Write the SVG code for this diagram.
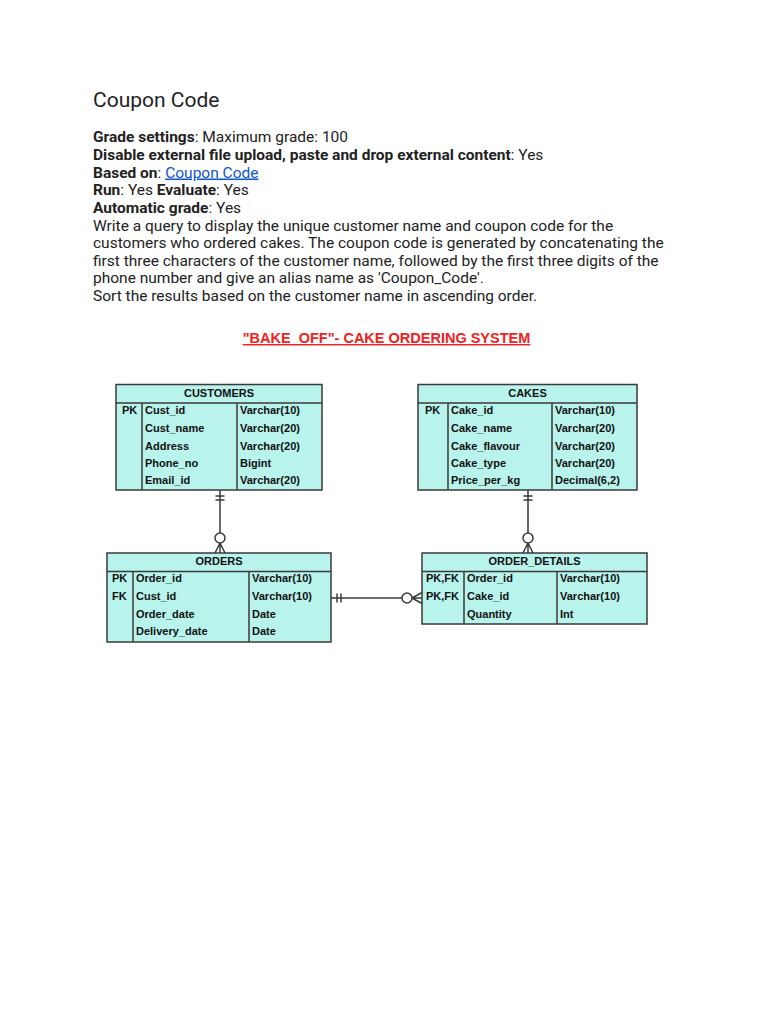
<svg xmlns="http://www.w3.org/2000/svg" width="768" height="1024" viewBox="0 0 768 1024">
<style>
.t{font-family:Roboto,"Liberation Sans",sans-serif;font-size:15.5px;fill:#222}
.b{font-weight:700}
.tb{fill:#b8f3ec;stroke:#3a3a3a;stroke-width:1.5}
.ln{stroke:#3a3a3a;stroke-width:1.5;fill:none}
.c{font-family:"Liberation Sans",Arial,sans-serif;font-size:11px;font-weight:700;fill:#111}
.h{text-anchor:middle}
.ce{fill:#fff;stroke:#3a3a3a;stroke-width:1.5}
</style>
<rect width="768" height="1024" fill="#fff"/>
<g id="header-text">
<text x="93" y="107" class="t" style="font-size:21px">Coupon Code</text>
<text x="93" y="142" class="t"><tspan class="b">Grade settings</tspan>: Maximum grade: 100</text>
<text x="93" y="160" class="t"><tspan class="b">Disable external file upload, paste and drop external content</tspan>: Yes</text>
<text x="93" y="177.5" class="t"><tspan class="b">Based on</tspan>: <tspan fill="#1155cc" text-decoration="underline">Coupon Code</tspan></text>
<text x="93" y="195" class="t"><tspan class="b">Run</tspan>: Yes <tspan class="b">Evaluate</tspan>: Yes</text>
<text x="93" y="213" class="t"><tspan class="b">Automatic grade</tspan>: Yes</text>
<text x="93" y="230.5" class="t">Write a query to display the unique customer name and coupon code for the</text>
<text x="93" y="248" class="t">customers who ordered cakes. The coupon code is generated by concatenating the</text>
<text x="93" y="266" class="t">first three characters of the customer name, followed by the first three digits of the</text>
<text x="93" y="283" class="t">phone number and give an alias name as 'Coupon_Code'.</text>
<text x="93" y="301" class="t">Sort the results based on the customer name in ascending order.</text>
</g>
<g id="title">
<text x="386.5" y="343" text-anchor="middle" font-family="Liberation Sans,Arial,sans-serif" font-size="14.5" font-weight="700" fill="#ee2222" text-decoration="underline">"BAKE_OFF"- CAKE ORDERING SYSTEM</text>
</g>
<g id="customers">
<rect x="116" y="384.5" width="206" height="105.5" class="tb"/>
<path d="M116 403H322M142 403V490M237 403V490" class="ln"/>
<text x="219" y="397" class="c h">CUSTOMERS</text>
<text x="122" y="414" class="c">PK</text>
<text x="145" y="414" class="c">Cust_id</text><text x="240" y="414" class="c">Varchar(10)</text>
<text x="145" y="432" class="c">Cust_name</text><text x="240" y="432" class="c">Varchar(20)</text>
<text x="145" y="450" class="c">Address</text><text x="240" y="450" class="c">Varchar(20)</text>
<text x="145" y="467" class="c">Phone_no</text><text x="240" y="467" class="c">Bigint</text>
<text x="145" y="484" class="c">Email_id</text><text x="240" y="484" class="c">Varchar(20)</text>
</g>
<g id="cakes">
<rect x="418" y="384.5" width="219" height="105.5" class="tb"/>
<path d="M418 403H637M448 403V490M552 403V490" class="ln"/>
<text x="527.5" y="397" class="c h">CAKES</text>
<text x="425" y="414" class="c">PK</text>
<text x="451" y="414" class="c">Cake_id</text><text x="555" y="414" class="c">Varchar(10)</text>
<text x="451" y="432" class="c">Cake_name</text><text x="555" y="432" class="c">Varchar(20)</text>
<text x="451" y="450" class="c">Cake_flavour</text><text x="555" y="450" class="c">Varchar(20)</text>
<text x="451" y="467" class="c">Cake_type</text><text x="555" y="467" class="c">Varchar(20)</text>
<text x="451" y="484" class="c">Price_per_kg</text><text x="555" y="484" class="c">Decimal(6,2)</text>
</g>
<g id="orders">
<rect x="107" y="553" width="224" height="89" class="tb"/>
<path d="M107 571.5H331M133 571.5V642M249 571.5V642" class="ln"/>
<text x="219" y="565" class="c h">ORDERS</text>
<text x="112" y="582" class="c">PK</text>
<text x="136" y="582" class="c">Order_id</text><text x="252" y="582" class="c">Varchar(10)</text>
<text x="112" y="600" class="c">FK</text>
<text x="136" y="600" class="c">Cust_id</text><text x="252" y="600" class="c">Varchar(10)</text>
<text x="136" y="618" class="c">Order_date</text><text x="252" y="618" class="c">Date</text>
<text x="136" y="635" class="c">Delivery_date</text><text x="252" y="635" class="c">Date</text>
</g>
<g id="order_details">
<rect x="422" y="553" width="225" height="71" class="tb"/>
<path d="M422 571.5H647M464 571.5V624M557 571.5V624" class="ln"/>
<text x="534.5" y="565" class="c h">ORDER_DETAILS</text>
<text x="426" y="582" class="c">PK,FK</text>
<text x="467" y="582" class="c">Order_id</text><text x="560" y="582" class="c">Varchar(10)</text>
<text x="426" y="600" class="c">PK,FK</text>
<text x="467" y="600" class="c">Cake_id</text><text x="560" y="600" class="c">Varchar(10)</text>
<text x="467" y="618" class="c">Quantity</text><text x="560" y="618" class="c">Int</text>
</g>
<g id="connectors">
<path d="M220 490V553M215.5 496H224.5M215.5 500H224.5M220 543L215 553M220 543L225 553" class="ln"/>
<circle cx="220" cy="538" r="5" class="ce"/>
<path d="M528 490V553M523.5 496H532.5M523.5 500H532.5M528 543L523 553M528 543L533 553" class="ln"/>
<circle cx="528" cy="538" r="5" class="ce"/>
<path d="M331 598H422M337 593.5V602.5M341 593.5V602.5M412 598L422 592.5M412 598L422 603.5" class="ln"/>
<circle cx="407" cy="598" r="5" class="ce"/>
</g>
</svg>
